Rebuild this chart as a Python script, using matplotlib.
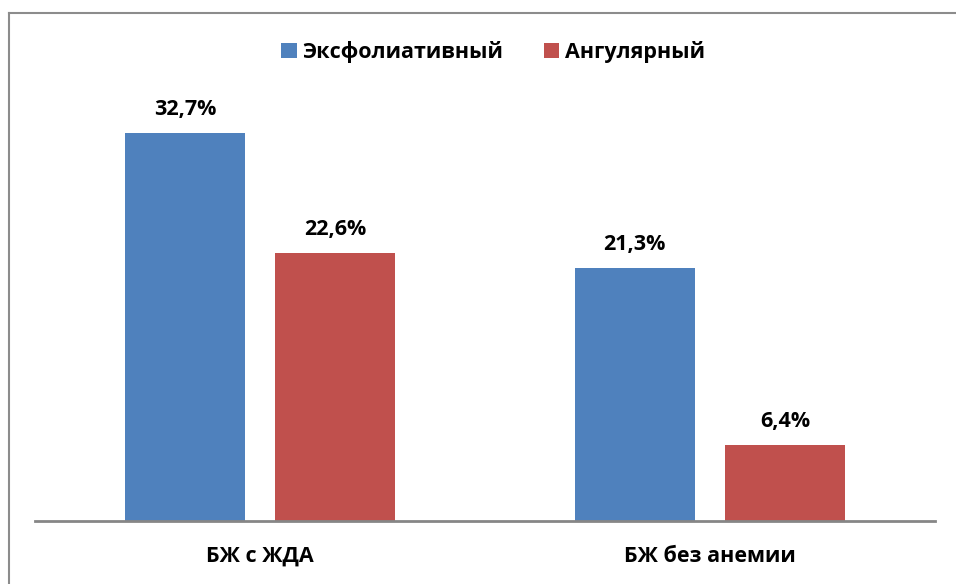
import matplotlib
matplotlib.use("Agg")
import matplotlib.pyplot as plt
import numpy as np
from matplotlib.lines import Line2D
from matplotlib.patches import Patch

categories = ["БЖ с ЖДА", "БЖ без анемии"]
series_names = ["Эксфолиативный", "Ангулярный"]
exfol = [32.7, 21.3]
angular = [22.6, 6.4]
values = [exfol, angular]
colors = ["#4F81BD", "#C0504D"]

plt.rcParams['font.family'] = ['Open Sans', 'DejaVu Sans']

fig = plt.figure(figsize=(9.56, 5.84), dpi=100)
W, H = 956, 584
ax = fig.add_axes([35 / W, 1 - 521 / H, 900 / W, 475 / H])

x = np.arange(len(categories))
bw = 0.267
offs = [-0.167, 0.167]
for vals, off, c in zip(values, offs, colors):
    bars = ax.bar(x + off, vals, width=bw, color=c, zorder=2)
    for b, v in zip(bars, vals):
        ax.annotate(f"{v:.1f}%".replace(".", ","), (b.get_x() + b.get_width() / 2, v),
                    xytext=(0, 13), textcoords="offset pixels", ha="center", va="bottom",
                    fontsize=15.5, fontweight="bold", color="black")

ax.set_xlim(-0.5, 1.5)
ax.set_ylim(0, 40)
ax.set_yticks([])
ax.set_xticks(x)
ax.set_xticklabels(categories, fontsize=15.5, fontweight="bold")
ax.tick_params(axis="x", length=0, pad=18)
for s in ["top", "right", "left"]:
    ax.spines[s].set_visible(False)
ax.spines["bottom"].set_color("#868686")
ax.spines["bottom"].set_linewidth(2)

handles = [Patch(facecolor=c, edgecolor="none") for c in colors]
leg = fig.legend(handles, series_names, loc="center", bbox_to_anchor=(493 / W, 1 - 52 / H),
                 ncol=2, frameon=False, prop={"weight": "bold", "size": 15.5},
                 handlelength=0.72, handleheight=0.72, handletextpad=0.25, columnspacing=1.9)

# outer frame (left and top edges visible)
fig.add_artist(Line2D([8.5 / W, 8.5 / W], [0, 1 - 13 / H], transform=fig.transFigure, color="#8C8C8C", lw=1.5))
fig.add_artist(Line2D([8.5 / W, 1], [1 - 13 / H, 1 - 13 / H], transform=fig.transFigure, color="#8C8C8C", lw=1.5))

fig.savefig("out.png", dpi=100)
